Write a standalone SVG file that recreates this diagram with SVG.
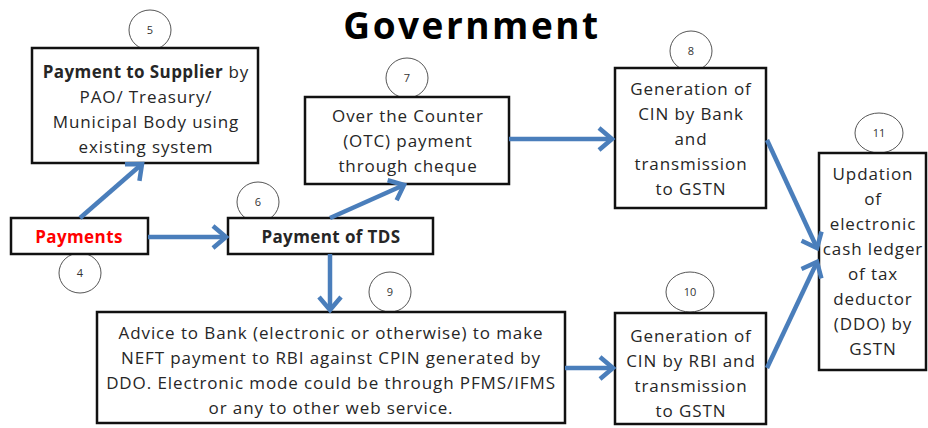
<svg xmlns="http://www.w3.org/2000/svg" width="928" height="428" viewBox="0 0 928 428">
<defs>
<style>
.box{fill:#fff;stroke:#111;stroke-width:2.5}
.num{fill:#fff;stroke:#555;stroke-width:1}
.t{font-family:"Open Sans","Liberation Sans",sans-serif;font-size:17px;letter-spacing:0.9px;fill:#262626;text-anchor:middle}
.b{font-weight:bold;letter-spacing:0.4px}
.n{font-family:"Open Sans","Liberation Sans",sans-serif;font-size:11px;fill:#333;text-anchor:middle}
.c{stroke:#4a7ebb;stroke-width:4.5;fill:none;stroke-linecap:butt}
</style>
<marker id="ah" markerUnits="userSpaceOnUse" markerWidth="30" markerHeight="30" refX="0" refY="0" viewBox="-20 -15 30 30" orient="auto" overflow="visible">
<path d="M-13,-11 L0,0 L-13,11" fill="none" stroke="#4a7ebb" stroke-width="4.5" stroke-linejoin="miter"/>
</marker>
</defs>
<rect width="928" height="428" fill="#fff"/>
<text x="472" y="39" font-family="Open Sans, Liberation Sans, sans-serif" font-size="37" font-weight="bold" letter-spacing="2.5" text-anchor="middle" fill="#000">Government</text>

<g id="n4">
<ellipse class="num" cx="80" cy="273" rx="21" ry="20"/>
<text class="n" x="80" y="277">4</text>
<rect class="box" x="11" y="218" width="137" height="36"/>
<text class="t b" x="79" y="243" style="fill:#ff0000">Payments</text>
</g>

<g id="n5">
<ellipse class="num" cx="150" cy="30" rx="21" ry="20"/>
<text class="n" x="150" y="34">5</text>
<rect class="box" x="32" y="48" width="226" height="115"/>
<text class="t" x="146" y="78"><tspan class="b">Payment to Supplier</tspan> by</text>
<text class="t" x="146" y="103">PAO/ Treasury/</text>
<text class="t" x="146" y="128">Municipal Body using</text>
<text class="t" x="146" y="153">existing system</text>
</g>

<g id="n6">
<ellipse class="num" cx="258" cy="202" rx="21" ry="20"/>
<text class="n" x="258" y="206">6</text>
<rect class="box" x="228" y="218" width="205" height="36"/>
<text class="t b" x="331" y="243">Payment of TDS</text>
</g>

<g id="n7">
<ellipse class="num" cx="407" cy="78" rx="21" ry="20"/>
<text class="n" x="407" y="82">7</text>
<rect class="box" x="305" y="97" width="204" height="87"/>
<text class="t" x="408" y="122">Over the Counter</text>
<text class="t" x="408" y="147">(OTC) payment</text>
<text class="t" x="408" y="172">through cheque</text>
</g>

<g id="n8">
<ellipse class="num" cx="691" cy="51" rx="21" ry="20"/>
<text class="n" x="691" y="55">8</text>
<rect class="box" x="615" y="68" width="151" height="140"/>
<text class="t" x="691" y="95">Generation of</text>
<text class="t" x="691" y="120">CIN by Bank</text>
<text class="t" x="691" y="145">and</text>
<text class="t" x="691" y="170">transmission</text>
<text class="t" x="691" y="195">to GSTN</text>
</g>

<g id="n9">
<ellipse class="num" cx="390" cy="292" rx="21" ry="20"/>
<text class="n" x="390" y="296">9</text>
<rect class="box" x="97" y="312" width="468" height="111"/>
<text class="t" x="331" y="339">Advice to Bank (electronic or otherwise) to make</text>
<text class="t" x="331" y="364">NEFT payment to RBI against CPIN generated by</text>
<text class="t" x="331" y="389">DDO. Electronic mode could be through PFMS/IFMS</text>
<text class="t" x="331" y="414">or any to other web service.</text>
</g>

<g id="n10">
<ellipse class="num" cx="690" cy="292" rx="24" ry="20"/>
<text class="n" x="690" y="296">10</text>
<rect class="box" x="615" y="313" width="151" height="111"/>
<text class="t" x="691" y="342">Generation of</text>
<text class="t" x="691" y="367">CIN by RBI and</text>
<text class="t" x="691" y="392">transmission</text>
<text class="t" x="691" y="417">to GSTN</text>
</g>

<g id="n11">
<ellipse class="num" cx="879" cy="133" rx="24" ry="20"/>
<text class="n" x="879" y="137">11</text>
<rect class="box" x="819" y="153" width="107" height="217"/>
<text class="t" x="873" y="180">Updation</text>
<text class="t" x="873" y="205">of</text>
<text class="t" x="873" y="230">electronic</text>
<text class="t" x="873" y="255">cash ledger</text>
<text class="t" x="873" y="280">of tax</text>
<text class="t" x="873" y="305">deductor</text>
<text class="t" x="873" y="330">(DDO) by</text>
<text class="t" x="873" y="355">GSTN</text>
</g>

<g id="connectors">
<line class="c" x1="80" y1="218" x2="142" y2="164" marker-end="url(#ah)"/>
<line class="c" x1="148" y1="237" x2="226" y2="237" marker-end="url(#ah)"/>
<line class="c" x1="330" y1="218" x2="404" y2="185" marker-end="url(#ah)"/>
<line class="c" x1="330" y1="254" x2="330" y2="310" marker-end="url(#ah)"/>
<line class="c" x1="509" y1="139" x2="612" y2="139" marker-end="url(#ah)"/>
<line class="c" x1="565" y1="368" x2="613" y2="368" marker-end="url(#ah)"/>
<line class="c" x1="767" y1="140" x2="817" y2="248" marker-end="url(#ah)"/>
<line class="c" x1="767" y1="368" x2="817" y2="262" marker-end="url(#ah)"/>
</g>
</svg>
